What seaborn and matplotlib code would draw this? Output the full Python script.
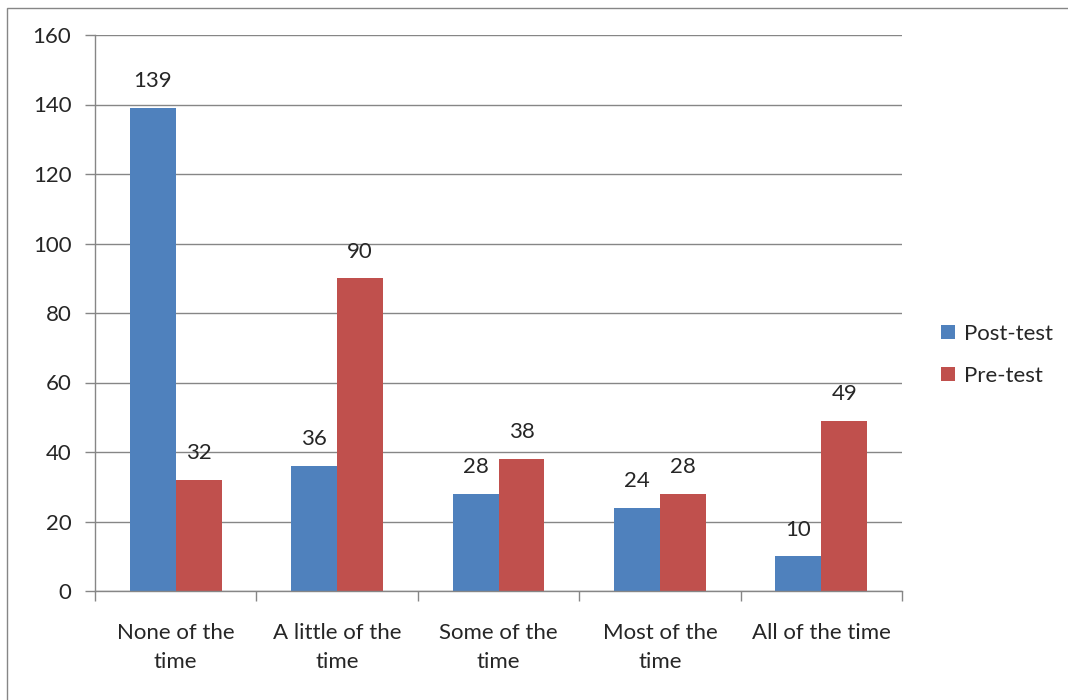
import matplotlib
matplotlib.use('Agg')
import matplotlib.pyplot as plt
import seaborn as sns
import pandas as pd
from matplotlib.patches import Rectangle

# Values
categories = ['None of the\ntime', 'A little of the\ntime', 'Some of the\ntime',
              'Most of the\ntime', 'All of the time']
post_test = [139, 36, 28, 24, 10]
pre_test = [32, 90, 38, 28, 49]
series = ['Post-test', 'Pre-test']

df = pd.DataFrame({
    'category': categories * 2,
    'value': post_test + pre_test,
    'series': [series[0]] * len(categories) + [series[1]] * len(categories),
})

sns.set_style('white')
plt.rcParams['font.family'] = ['Lato', 'DejaVu Sans']

fig = plt.figure(figsize=(10.68, 7.0), dpi=100)
ax = fig.add_axes([95 / 1068, 1 - 591 / 700, (902 - 95) / 1068, (591 - 35) / 700])

sns.barplot(data=df, x='category', y='value', hue='series',
            palette=['#4F81BD', '#C0504D'], width=0.57, gap=0,
            saturation=1, ax=ax, edgecolor='none')

# value labels above each bar
for cont in ax.containers:
    ax.bar_label(cont, padding=12, fontsize=16)

ax.set_ylim(0, 160)
ax.set_yticks(range(0, 161, 20))
ax.set_xlim(-0.5, len(categories) - 0.5)
ax.yaxis.grid(True, color='#868686', linewidth=1)
ax.set_axisbelow(True)
ax.set_xlabel('')
ax.set_ylabel('')

for s in ['top', 'right']:
    ax.spines[s].set_visible(False)
for s in ['left', 'bottom']:
    ax.spines[s].set_color('#868686')
    ax.spines[s].set_linewidth(1)

# y ticks outward on the left, x ticks at category boundaries
ax.tick_params(axis='y', length=7, width=1, color='#868686', direction='out',
               labelsize=16, pad=10, left=True)
ax.set_xticks([i - 0.5 for i in range(len(categories) + 1)], minor=True)
ax.tick_params(axis='x', which='minor', length=7, width=1, color='#868686',
               direction='out', bottom=True)
ax.set_xticks(range(len(categories)))
ax.set_xticklabels(categories, linespacing=1.55)
ax.tick_params(axis='x', which='major', length=0, labelsize=16, pad=23)

ax.legend(loc='center left', bbox_to_anchor=(1.024, 0.425), frameon=False,
          fontsize=16, handlelength=0.6, handleheight=0.6,
          handletextpad=0.4, labelspacing=1.0)

# outer chart frame
fig.patches.append(Rectangle((7 / 1068, -0.05), 1.1, 1 - 8 / 700 + 0.05,
                             transform=fig.transFigure, fill=False,
                             edgecolor='#868686', linewidth=1))

plt.savefig('out.png', dpi=100)
